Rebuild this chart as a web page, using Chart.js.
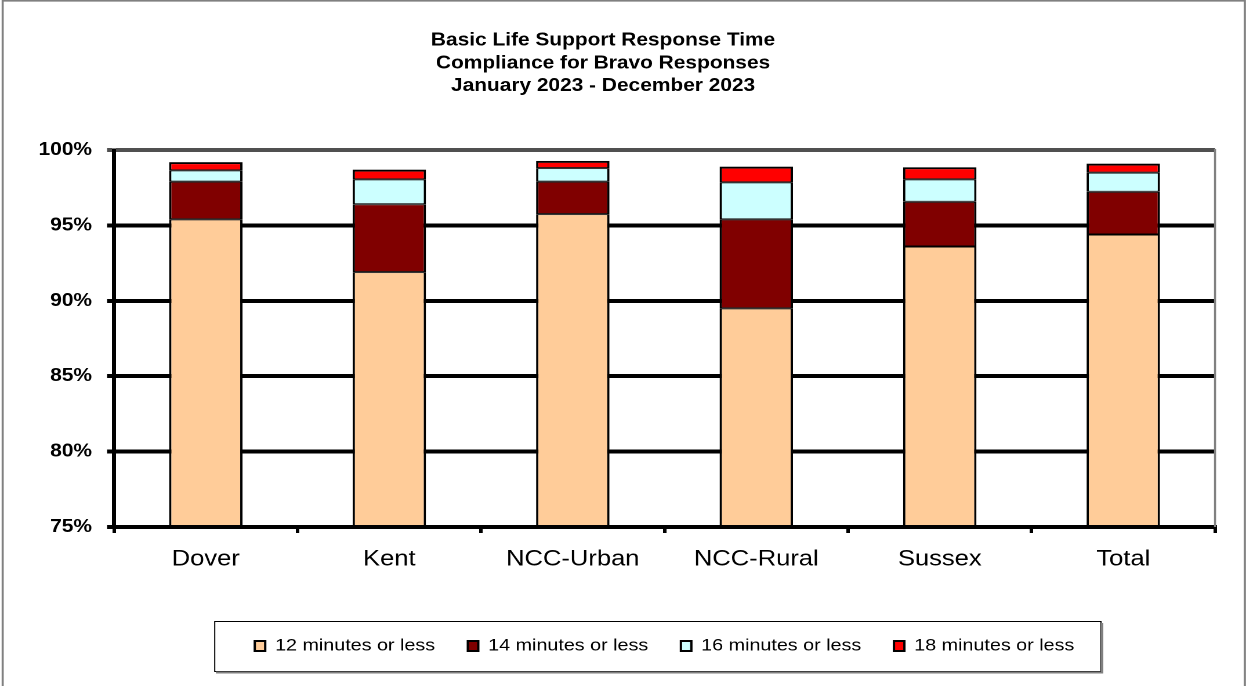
<!DOCTYPE html>
<html>
<head>
<meta charset="utf-8">
<script src="https://cdn.jsdelivr.net/npm/chart.js@4/dist/chart.umd.min.js"></script>
<style>
  html, body { margin: 0; padding: 0; background: #fff; overflow: hidden; }
  #wrap { width: 1074px; height: 686px; transform: scaleX(1.16015); transform-origin: 0 0; }
</style>
</head>
<body>
<div id="wrap"><canvas id="c" width="1074" height="686"></canvas></div>
<script>
// ---- data ----
const titleLines = ['Basic Life Support Response Time', 'Compliance for Bravo Responses', 'January 2023 - December 2023'];
const categories = ['Dover', 'Kent', 'NCC-Urban', 'NCC-Rural', 'Sussex', 'Total'];
const seriesLabels = ['12 minutes or less', '14 minutes or less', '16 minutes or less', '18 minutes or less'];
// stacked segment sizes (percentage points)
const seg12 = [95.4, 91.9, 95.75, 89.5, 93.6, 94.4];
const seg14 = [2.5, 4.5, 2.15, 5.9, 2.97, 2.83];
const seg16 = [0.75, 1.65, 0.9, 2.45, 1.48, 1.27];
const seg18 = [0.55, 0.65, 0.48, 1.05, 0.81, 0.6];
const yMin = 75, yMax = 100, yStep = 5;

const colors = ['#FFCC99', '#800000', '#CCFFFF', '#FF0000'];
const segs = [seg12, seg14, seg16, seg18];

Chart.defaults.font.family = '"Liberation Sans", Arial, sans-serif';
Chart.defaults.color = '#000';

const decor = {
  id: 'decor',
  beforeDraw(chart) {
    const c = chart.ctx;
    c.save();
    c.fillStyle = '#fff';
    c.fillRect(0, 0, chart.width, chart.height);
    c.restore();
  },
  afterDraw(chart) {
    const c = chart.ctx;
    const a = chart.chartArea;
    c.save();
    // outer frame
    c.strokeStyle = '#808080';
    c.lineWidth = 1.8;
    c.beginPath();
    c.moveTo(2.3, chart.height);
    c.lineTo(2.3, 0.7);
    c.lineTo(chart.width - 1, 0.7);
    c.lineTo(chart.width - 1, chart.height);
    c.stroke();
    // plot area right edge
    c.strokeStyle = '#808080';
    c.lineWidth = 1.8;
    c.beginPath();
    c.moveTo(a.right, a.top - 1);
    c.lineTo(a.right, a.bottom);
    c.stroke();
    // title
    c.fillStyle = '#000';
    c.font = 'bold 18px "Liberation Sans", Arial, sans-serif';
    c.textAlign = 'center';
    c.textBaseline = 'alphabetic';
    const tx = 519.8;
    const base = [45.5, 68.5, 91];
    titleLines.forEach((t, i) => c.fillText(t, tx, base[i]));
    // legend frame
    const lg = chart.legend;
    if (lg && lg.legendHitBoxes && lg.legendHitBoxes.length) {
      const hb = lg.legendHitBoxes;
      const l = hb[0].left - 34.5;
      const r = hb[hb.length - 1].left + hb[hb.length - 1].width + 23;
      const t = 621, b = 672;
      c.strokeStyle = '#000';
      c.lineWidth = 1;
      c.strokeRect(l, t + 0.5, r - l, b - t - 1);
      c.strokeStyle = '#808080';
      c.lineWidth = 2;
      c.beginPath();
      c.moveTo(l + 1, b + 0.5);
      c.lineTo(r + 1, b + 0.5);
      c.lineTo(r + 1, t + 2);
      c.stroke();
    }
    c.restore();
  }
};

new Chart(document.getElementById('c'), {
  type: 'bar',
  data: {
    labels: categories,
    datasets: segs.map((d, i) => ({
      label: seriesLabels[i],
      data: d,
      backgroundColor: colors[i],
      borderColor: '#000',
      borderWidth: { top: i === 3 ? 2 : 1, bottom: 1, left: 2, right: 2 },
      borderSkipped: false,
      categoryPercentage: 1.0,
      barPercentage: 0.4
    }))
  },
  options: {
    responsive: false,
    animation: false,
    devicePixelRatio: 2,
    layout: { padding: { left: 0, right: 26.7, top: 150, bottom: 21.5 } },
    plugins: {
      title: { display: false },
      tooltip: { enabled: false },
      legend: {
        position: 'bottom',
        fullSize: false,
        labels: {
          boxWidth: 9,
          boxHeight: 10,
          padding: 28.2,
          color: '#000',
          font: { size: 17 },
          generateLabels: (chart) =>
            Chart.defaults.plugins.legend.labels.generateLabels(chart).map((l) => Object.assign(l, { lineWidth: 2, strokeStyle: '#000' }))
        }
      }
    },
    scales: {
      x: {
        stacked: true,
        afterFit(scale) { scale.height = 82.3; },
        grid: {
          display: true,
          drawOnChartArea: false,
          drawTicks: true,
          tickLength: 6,
          lineWidth: 3,
          color: '#000',
          offset: true
        },
        border: { display: true, color: '#000', width: 4, z: 1 },
        ticks: { color: '#000', font: { size: 22 }, padding: 13, maxRotation: 0 }
      },
      y: {
        stacked: true,
        min: yMin,
        max: yMax,
        afterFit(scale) { scale.width = 98.3; },
        ticks: {
          stepSize: yStep,
          color: '#000',
          padding: 13,
          font: { size: 18, weight: 'bold' },
          callback: (v) => v + '%'
        },
        grid: {
          drawTicks: true,
          tickLength: 6,
          lineWidth: 4,
          color: (ctx) => (ctx.tick && ctx.tick.value === yMax ? '#505050' : '#000')
        },
        border: { display: true, color: '#000', width: 3.5, z: 1 }
      }
    }
  },
  plugins: [decor]
});
</script>
</body>
</html>
